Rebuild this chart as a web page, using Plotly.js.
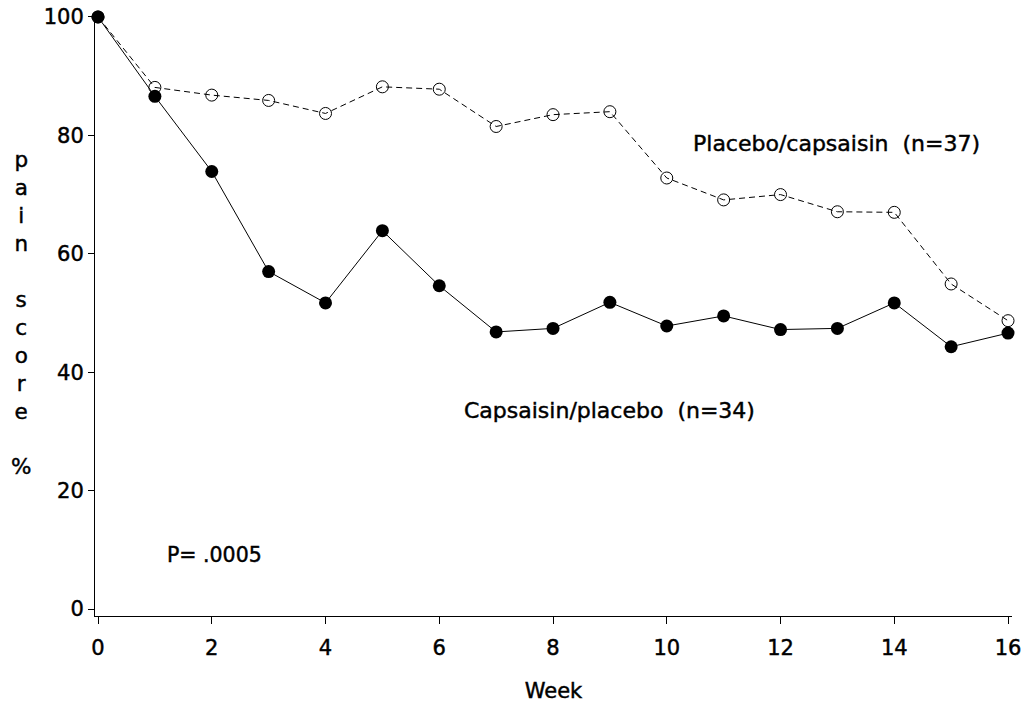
<!DOCTYPE html>
<html>
<head>
<meta charset="utf-8">
<script src="https://cdn.plot.ly/plotly-3.0.1.min.js"></script>
<style>
  html, body { margin: 0; padding: 0; background: #fff; }
  #chart { width: 1022px; height: 706px; }
  #chart svg text { stroke: #000; stroke-width: 0.45px; }
</style>
</head>
<body>
<div id="chart"></div>
<script>
// Data
const weeks = [0, 1, 2, 3, 4, 5, 6, 7, 8, 9, 10, 11, 12, 13, 14, 15, 16];
const capsaisinPlacebo = [100, 86.6, 73.9, 57.0, 51.7, 63.9, 54.6, 46.8, 47.4, 51.8, 47.8, 49.5, 47.2, 47.4, 51.7, 44.3, 46.6];
const placeboCapsaisin = [100, 88.1, 86.8, 85.9, 83.7, 88.2, 87.8, 81.5, 83.5, 84.0, 72.8, 69.1, 70.0, 67.1, 67.0, 54.9, 48.7];
const xTicks = [0, 2, 4, 6, 8, 10, 12, 14, 16];
const yTicks = [0, 20, 40, 60, 80, 100];
const labelPlacebo = 'Placebo/capsaisin  (n=37)';
const labelCaps = 'Capsaisin/placebo  (n=34)';
const pValueText = 'P= .0005';
const xTitle = 'Week';
const yTitleLetters = ['p', 'a', 'i', 'n', '\u00a0', 's', 'c', 'o', 'r', 'e', '\u00a0', '%'];

const FONT = 'DejaVu Sans, Arial, sans-serif';

const traces = [
  {
    x: weeks, y: placeboCapsaisin, type: 'scatter', mode: 'lines+markers',
    name: 'Placebo/capsaisin',
    line: { color: '#000', width: 1, dash: '6px,4px' },
    marker: { symbol: 'circle-open', size: 12, color: '#000', line: { color: '#000', width: 1 } },
    cliponaxis: false
  },
  {
    x: weeks, y: capsaisinPlacebo, type: 'scatter', mode: 'lines+markers',
    name: 'Capsaisin/placebo',
    line: { color: '#000', width: 1 },
    marker: { symbol: 'circle', size: 13, color: '#000' },
    cliponaxis: false
  }
];

const layout = {
  width: 1022, height: 706,
  paper_bgcolor: '#fff', plot_bgcolor: '#fff',
  showlegend: false,
  margin: { l: 95, r: 10, t: 14, b: 90 },
  font: { family: FONT, color: '#000', size: 21 },
  xaxis: {
    range: [-0.053, 16.07],
    tickvals: xTicks, ticktext: xTicks.map(String),
    showgrid: false, zeroline: false,
    showline: true, linecolor: '#000', linewidth: 1,
    ticks: 'outside', ticklen: 7, tickwidth: 1, tickcolor: '#000',
    tickfont: { family: FONT, size: 21, color: '#000' },
    ticklabelstandoff: 6,
    title: { text: xTitle, font: { family: FONT, size: 21, color: '#000' }, standoff: 24 }
  },
  yaxis: {
    range: [-1.18, 100.5],
    tickvals: yTicks, ticktext: yTicks.map(String),
    showgrid: false, zeroline: false,
    showline: true, linecolor: '#000', linewidth: 1,
    ticks: 'outside', ticklen: 6, tickwidth: 1, tickcolor: '#000',
    tickfont: { family: FONT, size: 21, color: '#000' },
    ticklabelstandoff: 0
  },
  annotations: [
    { xref: 'x', yref: 'y', x: 10.42, y: 78.7, xanchor: 'left', yanchor: 'middle',
      text: labelPlacebo, showarrow: false, font: { family: FONT, size: 22, color: '#000' } },
    { xref: 'x', yref: 'y', x: 6.40, y: 33.6, xanchor: 'left', yanchor: 'middle',
      text: labelCaps, showarrow: false, font: { family: FONT, size: 22, color: '#000' } },
    { xref: 'x', yref: 'y', x: 1.18, y: 9.1, xanchor: 'left', yanchor: 'middle',
      text: pValueText, showarrow: false, font: { family: FONT, size: 20.5, color: '#000' } },
    { xref: 'paper', yref: 'paper', x: -0.0807, y: 0.5025, xanchor: 'center', yanchor: 'middle',
      text: yTitleLetters.join('<br>'), align: 'center', showarrow: false,
      font: { family: FONT, size: 21.5, color: '#000' } }
  ]
};

Plotly.newPlot('chart', traces, layout, { displayModeBar: false, staticPlot: true });
</script>
</body>
</html>
